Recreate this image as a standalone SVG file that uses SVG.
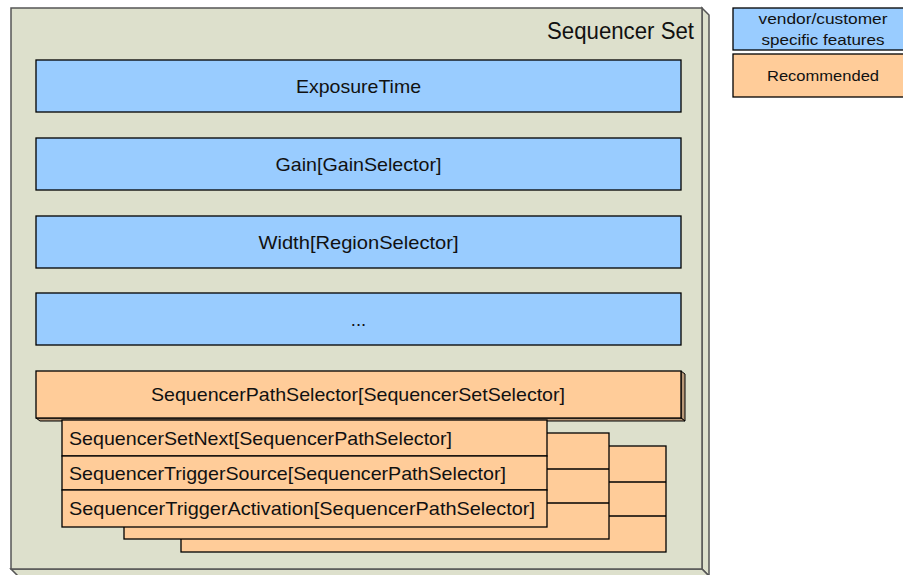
<svg xmlns="http://www.w3.org/2000/svg" width="903" height="575" viewBox="0 0 903 575">
<style>
text{font-family:"Liberation Sans",Arial,sans-serif;fill:#111;}
.c{text-anchor:middle;}
.blue{fill:#99ccff;stroke:#000;stroke-width:1.3;}
.org{fill:#ffcc99;stroke:#000;stroke-width:1.3;}
.cube{fill:#dde0cc;stroke:#555;stroke-width:1.5;}
.t18{font-size:18.5px;}
.t15{font-size:15.5px;}
</style>
<rect width="903" height="575" fill="#fff"/>
<g id="sequencer-set">
<polygon class="cube" points="702,8 709,15 709,576 702,569"/>
<polygon class="cube" points="11,569 702,569 709,576 18,576"/>
<rect class="cube" x="11" y="8" width="691" height="561"/>
<text x="694" y="39" font-size="23" text-anchor="end" textLength="147" lengthAdjust="spacingAndGlyphs">Sequencer Set</text>
</g>
<g id="exposure">
<rect class="blue" x="36" y="60" width="645" height="52"/>
<text class="c t18" x="358.5" y="92.5" textLength="125" lengthAdjust="spacingAndGlyphs">ExposureTime</text>
</g>
<g id="gain">
<rect class="blue" x="36" y="138" width="645" height="52"/>
<text class="c t18" x="358.5" y="170.5" textLength="166" lengthAdjust="spacingAndGlyphs">Gain[GainSelector]</text>
</g>
<g id="width">
<rect class="blue" x="36" y="216" width="645" height="52"/>
<text class="c t18" x="358.5" y="248.5" textLength="200" lengthAdjust="spacingAndGlyphs">Width[RegionSelector]</text>
</g>
<g id="more">
<rect class="blue" x="36" y="293" width="645" height="52"/>
<text class="c t18" x="358.5" y="326">...</text>
</g>
<g id="path-selector">
<polygon points="681,371 685,374 685,421 681,418" fill="#b89878" stroke="#000" stroke-width="1"/>
<polygon points="36,418 681,418 685,421 40,421" fill="#b89878" stroke="#000" stroke-width="1"/>
<rect class="org" x="36" y="371" width="645" height="47"/>
<text class="c t18" x="358" y="400.5" textLength="414" lengthAdjust="spacingAndGlyphs">SequencerPathSelector[SequencerSetSelector]</text>
</g>
<g id="path-stack-3">
<rect class="org" x="181" y="446" width="485" height="106"/>
<line x1="181" y1="482" x2="666" y2="482" stroke="#000" stroke-width="1.3"/>
<line x1="181" y1="516" x2="666" y2="516" stroke="#000" stroke-width="1.3"/>
</g>
<g id="path-stack-2">
<rect class="org" x="124" y="433" width="485" height="106"/>
<line x1="124" y1="469" x2="609" y2="469" stroke="#000" stroke-width="1.3"/>
<line x1="124" y1="503" x2="609" y2="503" stroke="#000" stroke-width="1.3"/>
</g>
<g id="path-stack-1">
<rect class="org" x="62" y="420" width="485" height="36"/>
<text class="t18" x="69" y="444.5" textLength="383" lengthAdjust="spacingAndGlyphs">SequencerSetNext[SequencerPathSelector]</text>
<rect class="org" x="62" y="456" width="485" height="34"/>
<text class="t18" x="69" y="479.5" textLength="437" lengthAdjust="spacingAndGlyphs">SequencerTriggerSource[SequencerPathSelector]</text>
<rect class="org" x="62" y="490" width="485" height="37"/>
<text class="t18" x="69" y="514.5" textLength="466" lengthAdjust="spacingAndGlyphs">SequencerTriggerActivation[SequencerPathSelector]</text>
</g>
<g id="legend-vendor">
<rect class="blue" x="733" y="8" width="172" height="42"/>
<text class="c t15" x="823" y="24" textLength="129" lengthAdjust="spacingAndGlyphs">vendor/customer</text>
<text class="c t15" x="823" y="45" textLength="123" lengthAdjust="spacingAndGlyphs">specific features</text>
</g>
<g id="legend-recommended">
<rect class="org" x="733" y="54" width="172" height="43"/>
<text class="c t15" x="823" y="80.5" textLength="112" lengthAdjust="spacingAndGlyphs">Recommended</text>
</g>
<g id="connectors"></g>
</svg>
